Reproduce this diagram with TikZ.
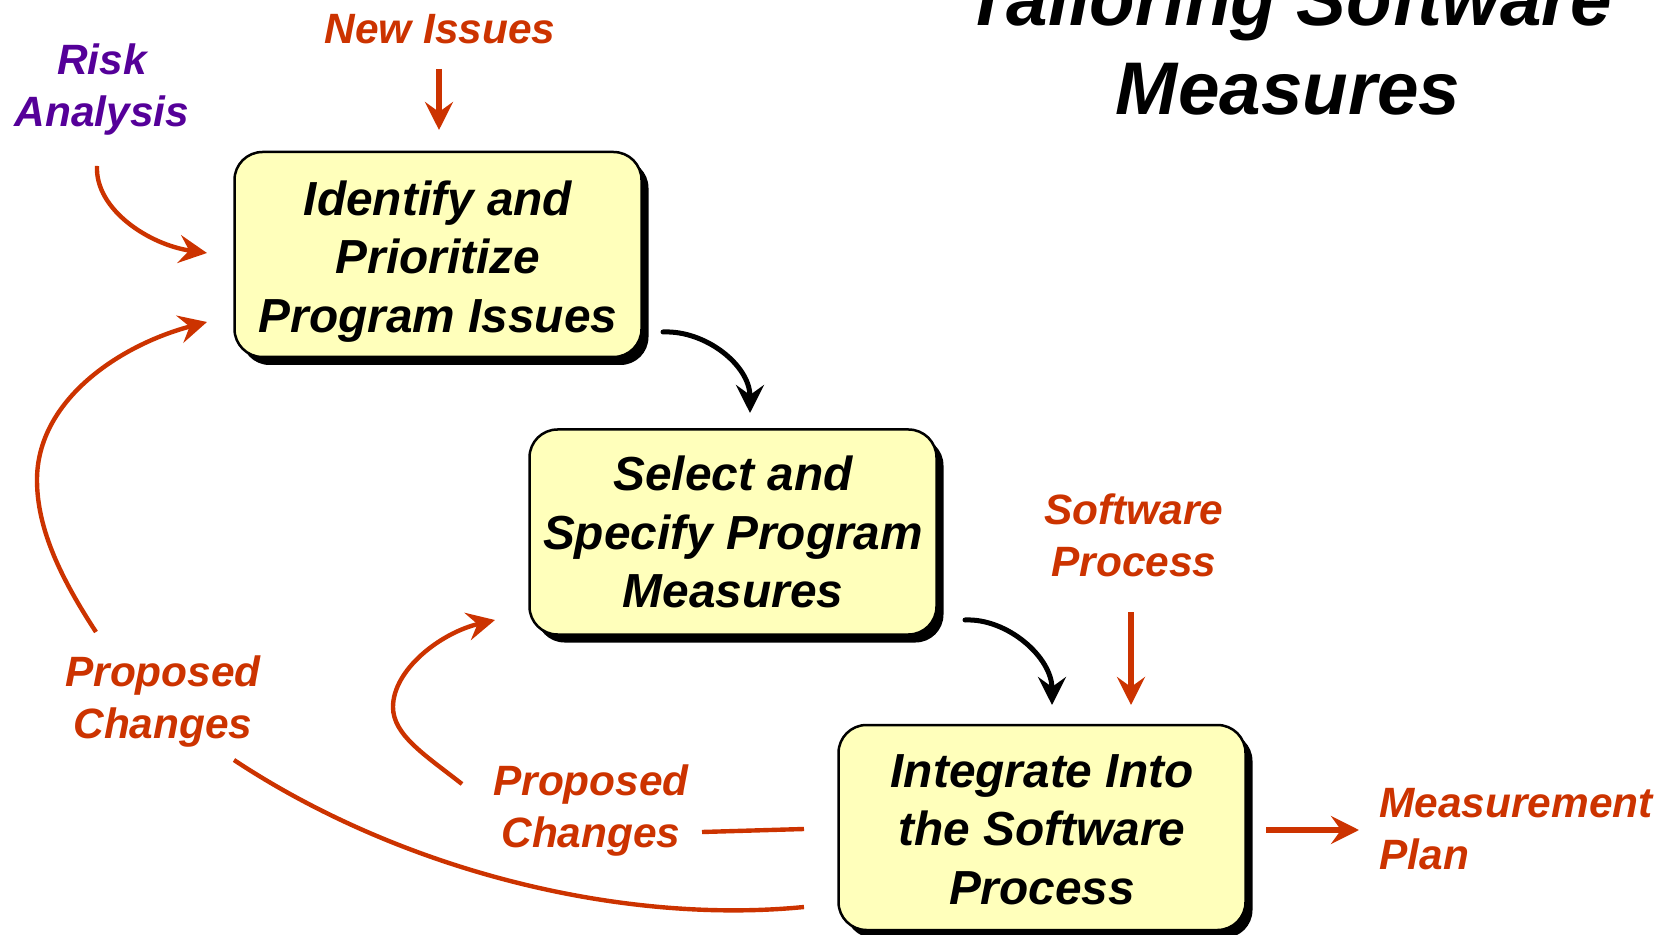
\documentclass[tikz,border=0pt]{standalone}
\usepackage{fontspec}
\setmainfont{Liberation Sans}
\usetikzlibrary{arrows.meta,shadows}
\definecolor{tred}{HTML}{CC3300}
\definecolor{tpurple}{HTML}{550099}
\definecolor{tyellow}{HTML}{FFFFBB}
\begin{document}
\begin{tikzpicture}[x=0.5pt,y=-0.5pt,
 procbox/.style={draw=black, line width=1.25pt, fill=tyellow, rounded corners=14pt,
   minimum width=203.5pt, minimum height=102.5pt, align=center, inner sep=0pt,
   font=\fontsize{23.9}{29.3}\selectfont\bfseries\itshape,
   drop shadow={shadow xshift=3.5pt,shadow yshift=-4pt,fill=black,opacity=1}},
 lbl/.style={inner sep=0pt, align=center, text=tred,
   font=\fontsize{21.2}{26}\selectfont\bfseries\itshape},
 redflow/.style={draw=tred, line width=2.6pt, -{Stealth[length=14pt,width=14pt,inset=5pt]}},
 redcurveflow/.style={draw=tred, line width=2.2pt, -{Stealth[length=14pt,width=14pt,inset=5pt]}},
 redcurve/.style={draw=tred, line width=2.2pt},
 blackflow/.style={draw=black, line width=2.5pt, line cap=round, -{Stealth[length=14pt,width=14pt,inset=5pt]}},
]
\useasboundingbox (0,0) rectangle (1671,935);

% title
\node[inner sep=0pt, align=center, font=\fontsize{37.3}{44.5}\selectfont\bfseries\itshape] (title) at (1288,43) {Tailoring Software\\Measures};

% process boxes
\node[procbox, text height=83pt] (b1) at (438,254.5) {Identify and\\Prioritize\\Program Issues};
\node[procbox] (b2) at (733,532) {Select and\\Specify Program\\Measures};
\node[procbox, text height=77pt] (b3) at (1042,827.5) {Integrate Into\\the Software\\Process};

% labels
\node[lbl,anchor=base] (ni) at (440,44) {New Issues};
\node[lbl,text=tpurple] (risk) at (102,90) {Risk\\Analysis};
\node[lbl] (pc1) at (163,701.5) {Proposed\\Changes};
\node[lbl] (pc2) at (591,811) {Proposed\\Changes};
\node[lbl] (sp) at (1134,535) {Software\\Process};
\node[lbl,align=left,anchor=west] (mp) at (1379,829.5) {Measurement\\Plan};

% connector end points
\coordinate (niS) at (439,69);   \coordinate (niE) at (439,130);
\coordinate (rkS) at (97,166);   \coordinate (rkE) at (207,253);
\coordinate (pcaS) at (96,632);  \coordinate (pcaM) at (37,480); \coordinate (pcaE) at (207,322);
\coordinate (pcbS) at (234,760); \coordinate (pcbE) at (804,907);
\coordinate (pccS) at (462,784); \coordinate (pccM) at (393,707); \coordinate (pccE) at (495,620);
\coordinate (pcdS) at (702,832); \coordinate (pcdE) at (804,829);
\coordinate (k12S) at (663,332); \coordinate (k12E) at (750,413);
\coordinate (k23S) at (965,620); \coordinate (k23E) at (1052,705);
\coordinate (spS) at (1131,612); \coordinate (spE) at (1131,705);
\coordinate (mpS) at (1266,830); \coordinate (mpE) at (1359,830);

% connectors
\draw[redflow] (niS) -- (niE);
\draw[redcurveflow] (rkS) .. controls (95,210) and (150,245) .. (rkE);
\draw[redcurveflow] (pcaS) .. controls (62,580) and (37,530) .. (pcaM)
   .. controls (37,400) and (120,345) .. (pcaE);
\draw[redcurve] (pcbS) .. controls (400,870) and (620,925) .. (pcbE);
\draw[redcurveflow] (pccS) .. controls (425,755) and (393,735) .. (pccM)
   .. controls (393,670) and (440,633) .. (pccE);
\draw[redcurve] (pcdS) -- (pcdE);
\draw[blackflow] (k12S) .. controls (705,330) and (750,365) .. (k12E);
\draw[blackflow] (k23S) .. controls (1007,618) and (1052,657) .. (k23E);
\draw[redflow] (spS) -- (spE);
\draw[redflow] (mpS) -- (mpE);
\end{tikzpicture}
\end{document}
